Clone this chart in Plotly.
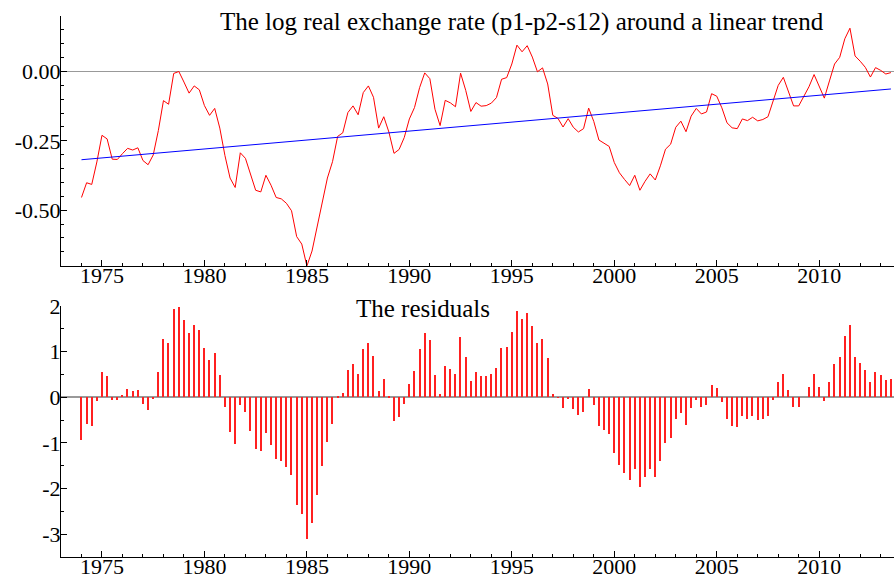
import plotly.graph_objects as go

# ---- data ----
start_year = 1974.0
n_quarters = 159
dates = [start_year + q / 4 for q in range(n_quarters)]

log_rer = [
    -0.454, -0.401, -0.407, -0.326, -0.230, -0.243, -0.316, -0.317, -0.296, -0.277,
    -0.283, -0.275, -0.321, -0.336, -0.301, -0.213, -0.105, -0.118, -0.007, 0.000,
    -0.038, -0.078, -0.052, -0.066, -0.123, -0.158, -0.133, -0.204, -0.303, -0.384,
    -0.418, -0.293, -0.313, -0.371, -0.428, -0.434, -0.374, -0.410, -0.454, -0.459,
    -0.475, -0.502, -0.595, -0.622, -0.701, -0.647, -0.558, -0.461, -0.384, -0.325,
    -0.234, -0.221, -0.148, -0.124, -0.156, -0.076, -0.052, -0.093, -0.204, -0.163,
    -0.218, -0.295, -0.281, -0.238, -0.171, -0.130, -0.058, -0.005, -0.026, -0.136,
    -0.195, -0.104, -0.113, -0.127, -0.006, -0.068, -0.144, -0.112, -0.125, -0.123,
    -0.114, -0.094, -0.028, -0.022, 0.027, 0.095, 0.071, 0.093, 0.052, -0.001,
    0.013, -0.045, -0.158, -0.169, -0.200, -0.170, -0.201, -0.218, -0.206, -0.132,
    -0.180, -0.247, -0.258, -0.270, -0.328, -0.365, -0.389, -0.411, -0.374, -0.428,
    -0.396, -0.369, -0.391, -0.340, -0.280, -0.262, -0.201, -0.179, -0.217, -0.161,
    -0.133, -0.153, -0.146, -0.080, -0.089, -0.131, -0.185, -0.203, -0.206, -0.171,
    -0.177, -0.165, -0.178, -0.173, -0.163, -0.110, -0.050, -0.021, -0.073, -0.124,
    -0.124, -0.090, -0.055, -0.011, -0.052, -0.096, -0.034, 0.027, 0.051, 0.118,
    0.156, 0.056, 0.037, 0.015, -0.020, 0.014, 0.004, -0.009, -0.004,
]

trend_start = -0.318
trend_end = -0.063

residuals = [
    -0.93, -0.58, -0.63, -0.09, 0.56, 0.46, -0.05, -0.07, 0.06, 0.18,
    0.13, 0.17, -0.15, -0.27, -0.04, 0.55, 1.28, 1.18, 1.93, 1.97,
    1.70, 1.41, 1.58, 1.47, 1.07, 0.82, 0.98, 0.48, -0.21, -0.77,
    -1.02, -0.17, -0.32, -0.73, -1.13, -1.18, -0.78, -1.04, -1.35, -1.40,
    -1.52, -1.71, -2.36, -2.56, -3.11, -2.75, -2.15, -1.50, -0.98, -0.59,
    0.02, 0.10, 0.59, 0.74, 0.51, 1.05, 1.20, 0.91, 0.14, 0.41,
    0.02, -0.52, -0.43, -0.15, 0.30, 0.57, 1.05, 1.40, 1.25, 0.48,
    0.07, 0.68, 0.61, 0.50, 1.32, 0.88, 0.35, 0.56, 0.46, 0.46,
    0.51, 0.64, 1.08, 1.11, 1.43, 1.89, 1.71, 1.85, 1.56, 1.19,
    1.27, 0.86, 0.08, -0.01, -0.23, -0.04, -0.26, -0.39, -0.32, 0.18,
    -0.16, -0.63, -0.72, -0.81, -1.22, -1.48, -1.66, -1.82, -1.58, -1.96,
    -1.75, -1.58, -1.74, -1.40, -1.00, -0.89, -0.48, -0.34, -0.61, -0.24,
    -0.06, -0.21, -0.17, 0.27, 0.20, -0.10, -0.48, -0.62, -0.65, -0.42,
    -0.47, -0.40, -0.50, -0.48, -0.42, -0.07, 0.33, 0.52, 0.15, -0.21,
    -0.22, 0.00, 0.23, 0.52, 0.23, -0.08, 0.33, 0.74, 0.89, 1.34,
    1.59, 0.89, 0.75, 0.59, 0.34, 0.56, 0.48, 0.38, 0.40,
]

top_tickvals = [0.0, -0.25, -0.5]
top_ticktext = ["0.00", "-0.25", "-0.50"]
bot_tickvals = [2, 1, 0, -1, -2, -3]
bot_ticktext = ["2", "1", "0", "-1", "-2", "-3"]

title_top = "The log real exchange rate (p1-p2-s12) around a linear trend"
title_bot = "The residuals"

# ---- figure ----
FONT = "Liberation Serif"
TICKFONT = dict(family=FONT, size=22, color="#000000")
fig = go.Figure()

fig.add_trace(go.Scatter(x=dates, y=log_rer, mode="lines",
                         line=dict(color="#ff0000", width=1),
                         xaxis="x", yaxis="y", showlegend=False))
fig.add_trace(go.Scatter(x=[dates[0], dates[-1]], y=[trend_start, trend_end],
                         mode="lines", line=dict(color="#0000ff", width=1),
                         xaxis="x", yaxis="y", showlegend=False))
fig.add_trace(go.Bar(x=dates, y=residuals, width=0.06,
                     marker=dict(color="#ff2020", line=dict(width=0)),
                     xaxis="x2", yaxis="y2", showlegend=False))

xcommon = dict(range=[1973.0, 2013.65], showline=True, linecolor="#000000",
               linewidth=1, ticks="inside", ticklen=6, tickcolor="#000000",
               tickmode="linear", tick0=1975, dtick=5, showgrid=False,
               zeroline=False, automargin=False, ticklabelstandoff=-10,
               tickfont=TICKFONT,
               minor=dict(ticks="inside", ticklen=3, dtick=1, tick0=1975,
                          tickcolor="#000000", showgrid=False))

ycommon = dict(showline=True, linecolor="#000000", linewidth=1,
               ticks="inside", ticklen=6, tickcolor="#000000",
               tickmode="array", showgrid=False, zeroline=True,
               zerolinecolor="#999999", automargin=False,
               ticklabelstandoff=-5, tickfont=TICKFONT)

fig.update_layout(
    width=894, height=577,
    margin=dict(l=61, r=0, t=16, b=20),
    paper_bgcolor="white", plot_bgcolor="white",
    bargap=0,
    xaxis=dict(domain=[0, 1], anchor="y", **xcommon),
    xaxis2=dict(domain=[0, 1], anchor="y2", **xcommon),
    yaxis=dict(domain=[0.5384, 1.0], anchor="x", range=[-0.70, 0.20],
               tickvals=top_tickvals, ticktext=top_ticktext, zerolinewidth=1,
               minor=dict(ticks="inside", ticklen=3, tickmode="linear",
                          tick0=0, dtick=0.05, tickcolor="#000000", showgrid=False),
               **ycommon),
    yaxis2=dict(domain=[0.0, 0.464], anchor="x2", range=[-3.5, 2.0],
                tickvals=bot_tickvals, ticktext=bot_ticktext, zerolinewidth=1.5,
                minor=dict(ticks="inside", ticklen=3, tickmode="linear",
                           tick0=0, dtick=0.5, tickcolor="#000000", showgrid=False),
                **ycommon),
    annotations=[
        dict(text=title_top, xref="paper", yref="paper", x=0.189, y=0.989,
             xanchor="left", yanchor="middle", showarrow=False,
             font=dict(family=FONT, size=25, color="#000000")),
        dict(text=title_bot, xref="paper", yref="paper", x=0.352, y=0.4593,
             xanchor="left", yanchor="middle", showarrow=False,
             font=dict(family=FONT, size=25, color="#000000")),
    ],
)

fig.write_html("out.html")
